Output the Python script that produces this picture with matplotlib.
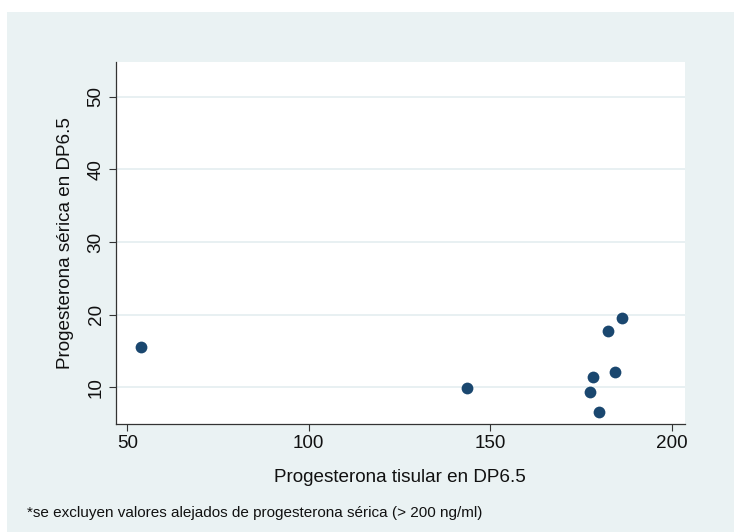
import matplotlib
matplotlib.use("Agg")
import matplotlib.pyplot as plt
from matplotlib.patches import Rectangle

# valores
tisular = [53.8, 143.5, 177.5, 178.4, 180.0, 182.5, 184.3, 186.4]
serica = [15.5, 9.9, 9.3, 11.4, 6.6, 17.7, 12.1, 19.5]
xticks = [50, 100, 150, 200]
yticks = [10, 20, 30, 40, 50]

bg = '#eaf2f3'
navy = '#1a476f'

plt.rcParams['font.family'] = ['Liberation Sans', 'DejaVu Sans']

fig = plt.figure(figsize=(7.34, 5.32), dpi=100)
fig.patch.set_facecolor('white')
fig.patches.append(Rectangle((7 / 734, 0), 1, 1 - 12 / 532, transform=fig.transFigure,
                             facecolor=bg, edgecolor='none', zorder=-10))

ax = fig.add_axes([115.7 / 734, 1 - 424 / 532, (684.7 - 115.7) / 734, (424 - 62) / 532])
ax.set_facecolor('white')

ax.scatter(tisular, serica, s=72, color=navy, zorder=3, linewidths=0)

ax.set_xlim(46.8, 203.6)
ax.set_ylim(4.95, 54.8)
ax.set_xticks(xticks)
ax.set_yticks(yticks)
ax.yaxis.grid(True, color='#e4eef0', linewidth=1.2)
ax.set_axisbelow(True)

for s in ['top', 'right']:
    ax.spines[s].set_visible(False)
for s in ['left', 'bottom']:
    ax.spines[s].set_color('#333333')
    ax.spines[s].set_linewidth(0.9)

ax.tick_params(axis='both', direction='out', length=5, width=0.8, color='#333333',
               labelsize=13.6, labelcolor='#111111', pad=3)
plt.setp(ax.get_yticklabels(), rotation=90, va='center')

ax.set_xlabel('Progesterona tisular en DP6.5', fontsize=13.6, labelpad=12, color='#111111')
ax.set_ylabel('Progesterona sérica en DP6.5', fontsize=13.6, labelpad=10, color='#111111')

fig.text(27 / 734, 1 - 513 / 532, '*se excluyen valores alejados de progesterona sérica (> 200 ng/ml)',
         fontsize=11, va='center', ha='left', color='#111111')

fig.savefig('out.png', dpi=100, facecolor=fig.get_facecolor())
